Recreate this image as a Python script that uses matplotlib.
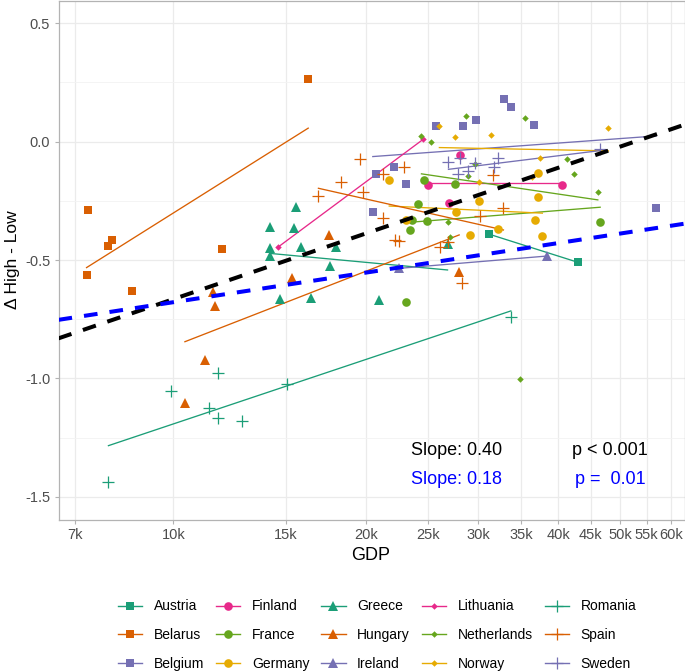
import numpy as np
import matplotlib
matplotlib.use('Agg')
import matplotlib.pyplot as plt
from matplotlib.lines import Line2D

plt.rcParams['font.family'] = ['Liberation Sans', 'DejaVu Sans']

countries = ['Austria', 'Belarus', 'Belgium', 'Finland', 'France', 'Germany',
             'Greece', 'Hungary', 'Ireland', 'Lithuania', 'Netherlands', 'Norway',
             'Romania', 'Spain', 'Sweden']

gdp_austria = [31200, 43000]
delta_austria = [-0.39, -0.51]
gdp_belarus = [7340, 8010, 7900, 7310, 8620, 11890, 16250]
delta_belarus = [-0.29, -0.415, -0.44, -0.565, -0.63, -0.455, 0.265]
gdp_belgium = [25740, 28380, 29770, 32890, 33810, 36650, 20740, 22150, 23150, 20510, 56940]
delta_belgium = [0.068, 0.068, 0.09, 0.182, 0.147, 0.069, -0.136, -0.106, -0.177, -0.296, -0.281]
gdp_finland = [28100, 25060, 40630, 27040]
delta_finland = [-0.056, -0.184, -0.183, -0.258]
gdp_france = [24680, 27600, 24170, 23660, 24970, 23460, 23100, 46540]
delta_france = [-0.163, -0.181, -0.263, -0.331, -0.334, -0.373, -0.676, -0.338]
gdp_germany = [21760, 23130, 27700, 30030, 29140, 32260, 36750, 37170, 37170, 37790]
delta_germany = [-0.164, -0.332, -0.299, -0.251, -0.393, -0.367, -0.333, -0.232, -0.134, -0.398]
gdp_greece = [15560, 14155, 15430, 14155, 15845, 14155, 17955, 17590, 14700, 16430, 26850, 20990]
delta_greece = [-0.275, -0.359, -0.363, -0.448, -0.444, -0.483, -0.444, -0.525, -0.666, -0.662, -0.434, -0.669]
gdp_hungary = [17540, 15340, 11530, 11630, 11220, 10420, 28000]
delta_hungary = [-0.394, -0.577, -0.634, -0.694, -0.922, -1.105, -0.549]
gdp_ireland = [22580, 38480]
delta_ireland = [-0.535, -0.483]
gdp_lithuania = [14600, 24600]
delta_lithuania = [-0.444, 0.01]
gdp_netherlands = [24440, 25260, 28720, 29590, 28890, 35500, 41320, 42420, 46150, 26860, 27100, 34910]
delta_netherlands = [0.025, -0.003, 0.11, -0.095, -0.144, 0.101, -0.074, -0.135, -0.211, -0.34, -0.404, -1.004]
gdp_norway = [26070, 27600, 31390, 37410, 30030, 36410, 47950]
delta_norway = [0.068, 0.02, 0.03, -0.071, -0.17, -0.149, 0.057]
gdp_romania = [7910, 9920, 11720, 11370, 11720, 12820, 15080, 33730]
delta_romania = [-1.439, -1.053, -0.976, -1.126, -1.169, -1.179, -1.025, -0.739]
gdp_spain = [16860, 18320, 19560, 19770, 21290, 22960, 21310, 22230, 22550, 26150, 26850,
             30200, 32840, 31680, 28270]
delta_spain = [-0.228, -0.169, -0.074, -0.214, -0.136, -0.106, -0.322, -0.415, -0.418, -0.444,
               -0.422, -0.314, -0.279, -0.141, -0.598]
gdp_sweden = [26940, 28100, 27850, 28930, 29670, 31770, 32260, 46450]
delta_sweden = [-0.086, -0.067, -0.136, -0.124, -0.091, -0.107, -0.067, -0.029]

# fitted line per country: value at lowest and highest GDP
fit_start = [-0.391, -0.532, -0.063, -0.173, -0.342, -0.272, -0.472, -0.845, -0.535,
             -0.444, -0.136, -0.025, -1.284, -0.197, -0.117]
fit_end = [-0.510, 0.057, 0.024, -0.173, -0.277, -0.302, -0.542, -0.394, -0.483,
           0.010, -0.246, -0.039, -0.715, -0.373, -0.038]

# overall fits (slope per log GDP, value at 10k)
overall_slope = [0.40, 0.18]
overall_at10k = [-0.665, -0.678]
slope_labels = ['Slope: 0.40', 'Slope: 0.18']
p_labels = ['p < 0.001', 'p =  0.01']

x_ticks = [7000, 10000, 15000, 20000, 25000, 30000, 35000, 40000, 45000, 50000, 55000, 60000]
x_ticklabels = ['7k', '10k', '15k', '20k', '25k', '30k', '35k', '40k', '45k', '50k', '55k', '60k']
y_ticks = [0.5, 0.0, -0.5, -1.0, -1.5]

gdp = [gdp_austria, gdp_belarus, gdp_belgium, gdp_finland, gdp_france, gdp_germany,
       gdp_greece, gdp_hungary, gdp_ireland, gdp_lithuania, gdp_netherlands, gdp_norway,
       gdp_romania, gdp_spain, gdp_sweden]
delta = [delta_austria, delta_belarus, delta_belgium, delta_finland, delta_france, delta_germany,
         delta_greece, delta_hungary, delta_ireland, delta_lithuania, delta_netherlands, delta_norway,
         delta_romania, delta_spain, delta_sweden]

dark2 = ['#1B9E77', '#D95F02', '#7570B3', '#E7298A', '#66A61E', '#E6AB02']
colors = [dark2[i % 3 + 3 * ((i // 3) % 2)] for i in range(15)]
markers = ['s'] * 3 + ['o'] * 3 + ['^'] * 3 + ['D'] * 3 + ['+'] * 3
msizes = {'s': 6.0, 'o': 6.2, '^': 6.8, 'D': 3.3, '+': 8.0}

W, H = 685, 671
fig = plt.figure(figsize=(W / 100, H / 100), dpi=100)
ax = fig.add_axes([58.5 / W, 1 - 520 / H, (685.5 - 58.5) / W, (520 - 1) / H])
ax.set_xscale('log')
ax.set_xlim(6607, 63300)
ax.set_ylim(-1.598, 0.594)

# grid
ax.set_yticks(y_ticks)
ax.set_yticklabels(['0.5', '0.0', '-0.5', '-1.0', '-1.5'])
ax.set_yticks([0.25, -0.25, -0.75, -1.25], minor=True)
ax.set_xticks(x_ticks)
ax.set_xticklabels(x_ticklabels)
ax.xaxis.set_minor_locator(matplotlib.ticker.NullLocator())
ax.grid(True, which='major', color='#EBEBEB', lw=0.9)
ax.grid(True, which='minor', axis='y', color='#F3F3F3', lw=0.6)
ax.set_axisbelow(True)
for s in ax.spines.values():
    s.set_color('#B3B3B3')
    s.set_linewidth(0.9)
ax.tick_params(which='major', length=3, color='#B3B3B3', labelcolor='#4D4D4D', labelsize=10.5, pad=3)
ax.tick_params(which='minor', length=0)

for i, c in enumerate(countries):
    col = colors[i]
    m = markers[i]
    lo, hi = min(gdp[i]), max(gdp[i])
    ax.plot([lo, hi], [fit_start[i], fit_end[i]], color=col, lw=0.95, zorder=3)
    if m == '+':
        ax.plot(gdp[i], delta[i], ls='none', marker=m, color=col, ms=msizes[m], mew=0.9, zorder=4)
    else:
        ax.plot(gdp[i], delta[i], ls='none', marker=m, color=col, ms=msizes[m], mew=0, zorder=4)

xs = np.array(ax.get_xlim())
for k, col in enumerate(['black', 'blue']):
    ys = overall_at10k[k] + overall_slope[k] * np.log(xs / 10000)
    ax.plot(xs, ys, color=col, lw=2.9, dashes=(3.4, 3.0), zorder=5, solid_capstyle='butt',
            dash_capstyle='butt')

for k, col in enumerate(['black', 'blue']):
    y = [-1.305, -1.425][k]
    ax.text(27770, y, slope_labels[k], color=col, fontsize=13, ha='center', va='center')
    ax.text(48250, y, p_labels[k], color=col, fontsize=13, ha='center', va='center')

fig.text(371 / W, 1 - 555 / H, 'GDP', fontsize=13, ha='center', va='center')
fig.text(12 / W, 1 - 260 / H, 'Δ High - Low', fontsize=12.5, ha='center', va='center', rotation=90)

handles = []
for i, c in enumerate(countries):
    m = markers[i]
    handles.append(Line2D([], [], color=colors[i], lw=1.0, marker=m, ms=msizes[m],
                          mew=0.9 if m == '+' else 0))
fig.legend(handles, countries, ncol=5, loc='center', bbox_to_anchor=(377 / W, 1 - 635 / H),
           frameon=False, fontsize=10, handlelength=1.75, handletextpad=0.83,
           columnspacing=0.86, labelspacing=1.05)

fig.savefig('out.png', dpi=100)
